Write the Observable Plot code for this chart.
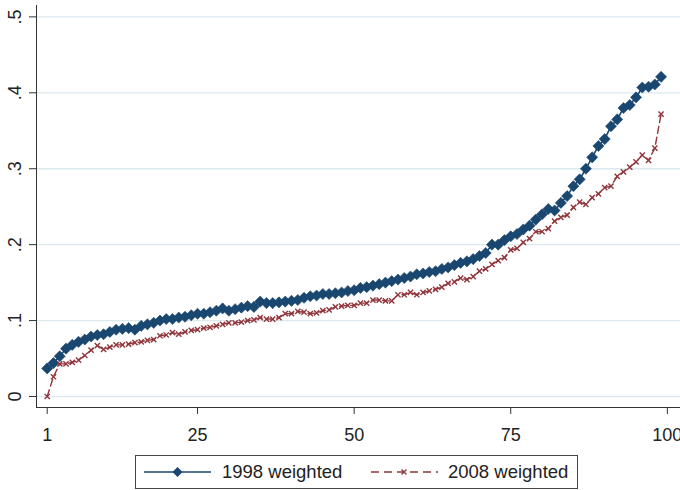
<!DOCTYPE html>
<html>
<head>
<meta charset="utf-8">
<script src="https://cdn.jsdelivr.net/npm/d3@7"></script>
<script src="https://cdn.jsdelivr.net/npm/@observablehq/plot@0.6"></script>
<style>
  html, body { margin: 0; padding: 0; background: #fff; }
  body { font-family: "Liberation Sans", Arial, sans-serif; width: 680px; height: 490px; overflow: hidden; }
  #legend { position: relative; margin: 3px 0 0 135px; width: 441px; height: 32px; border: 1px solid #444; font-size: 18.5px; color: #222; }
  #legend .item { position: absolute; top: 0; height: 32px; line-height: 32px; white-space: nowrap; }
  #legend svg { position: absolute; top: 0; }
</style>
</head>
<body>
<div id="chart"></div>
<div id="legend">
  <svg width="80" height="32" style="left:7px">
    <line x1="1" y1="16" x2="68" y2="16" stroke="#1a476f" stroke-width="1.6"/>
    <path d="M34.5 11 L39.5 16 L34.5 21 L29.5 16 Z" fill="#1a476f"/>
  </svg>
  <span class="item" style="left:86px">1998 weighted</span>
  <svg width="80" height="32" style="left:234px">
    <line x1="1" y1="16" x2="68" y2="16" stroke="#90353b" stroke-width="1.4" stroke-dasharray="8,5"/>
    <path d="M31.5 13.5 L36.5 18.5 M36.5 13.5 L31.5 18.5" stroke="#90353b" stroke-width="1.4"/>
  </svg>
  <span class="item" style="left:312px">2008 weighted</span>
</div>
<script>
// percentile index
const percentile = d3.range(1, 100);

const weighted1998 = [
  0.037, 0.044, 0.053, 0.063, 0.068, 0.072, 0.075, 0.079, 0.081, 0.082,
  0.085, 0.088, 0.089, 0.090, 0.088, 0.093, 0.095, 0.097, 0.100, 0.102,
  0.102, 0.104, 0.105, 0.107, 0.109, 0.109, 0.111, 0.113, 0.116, 0.113,
  0.115, 0.117, 0.119, 0.118, 0.125, 0.123, 0.123, 0.124, 0.125, 0.126,
  0.127, 0.130, 0.132, 0.133, 0.135, 0.135, 0.136, 0.137, 0.139, 0.140,
  0.143, 0.144, 0.146, 0.148, 0.150, 0.152, 0.154, 0.156, 0.158, 0.161,
  0.162, 0.164, 0.165, 0.168, 0.170, 0.173, 0.176, 0.178, 0.181, 0.185,
  0.189, 0.200, 0.200, 0.206, 0.211, 0.214, 0.220, 0.225, 0.233, 0.240,
  0.247, 0.245, 0.255, 0.264, 0.277, 0.286, 0.300, 0.315, 0.330, 0.339,
  0.356, 0.365, 0.380, 0.384, 0.394, 0.407, 0.408, 0.411, 0.421
];

const weighted2008 = [
  0.000, 0.026, 0.043, 0.043, 0.045, 0.048, 0.054, 0.061, 0.067, 0.062,
  0.065, 0.068, 0.068, 0.069, 0.071, 0.072, 0.074, 0.075, 0.080, 0.081,
  0.084, 0.082, 0.085, 0.087, 0.088, 0.090, 0.091, 0.093, 0.095, 0.097,
  0.097, 0.098, 0.100, 0.101, 0.104, 0.102, 0.102, 0.104, 0.109, 0.109,
  0.112, 0.111, 0.109, 0.110, 0.113, 0.114, 0.118, 0.119, 0.120, 0.120,
  0.123, 0.123, 0.127, 0.127, 0.126, 0.126, 0.134, 0.134, 0.137, 0.134,
  0.137, 0.139, 0.141, 0.144, 0.149, 0.151, 0.156, 0.154, 0.158, 0.165,
  0.168, 0.174, 0.179, 0.183, 0.193, 0.195, 0.203, 0.208, 0.217, 0.217,
  0.221, 0.231, 0.236, 0.239, 0.249, 0.256, 0.253, 0.262, 0.267, 0.275,
  0.277, 0.290, 0.296, 0.302, 0.309, 0.318, 0.311, 0.327, 0.372
];

const xTicks = [1, 25, 50, 75, 100];
const yTicks = [0, 0.1, 0.2, 0.3, 0.4, 0.5];
const yTickLabels = ["0", ".1", ".2", ".3", ".4", ".5"];

const blue = "#1a476f";
const red = "#90353b";

const d1998 = percentile.map((p, i) => ({p, v: weighted1998[i]}));
const d2008 = percentile.map((p, i) => ({p, v: weighted2008[i]}));

const xDom = [-0.71, 102.1];
const yDom = [-0.0145, 0.515];

const chart = Plot.plot({
  width: 680,
  height: 452,
  marginLeft: 36,
  marginRight: 0,
  marginTop: 5,
  marginBottom: 45,
  x: {domain: xDom},
  y: {domain: yDom},
  style: {fontFamily: "'Liberation Sans', Arial, sans-serif", fontSize: "18px", color: "#222", background: "#fff"},
  marks: [
    Plot.gridY(yTicks, {stroke: "#dce9ee", strokeOpacity: 1, strokeWidth: 1.3}),
    Plot.ruleX([xDom[0]], {stroke: "#333", strokeWidth: 1}),
    Plot.ruleY([yDom[0]], {stroke: "#333", strokeWidth: 1}),
    Plot.axisX(xTicks, {tickSize: 7, tickPadding: 14, stroke: "#333", fill: "#222", fontSize: 18, label: null}),
    Plot.axisY(yTicks, {tickSize: 7, stroke: "#333", tickFormat: () => "", label: null}),
    Plot.text(yTicks, {
      y: d => d,
      text: (d, i) => yTickLabels[i],
      frameAnchor: "left",
      dx: -21,
      rotate: -90,
      textAnchor: "middle",
      lineAnchor: "middle",
      fontSize: 18,
      fill: "#222"
    }),
    Plot.line(d1998, {x: "p", y: "v", stroke: blue, strokeWidth: 1.6}),
    Plot.dot(d1998, {x: "p", y: "v", symbol: "diamond2", r: 5, fill: blue, stroke: blue, strokeWidth: 0.6}),
    Plot.line(d2008, {x: "p", y: "v", stroke: red, strokeWidth: 1.4, strokeDasharray: "7,4"}),
    Plot.dot(d2008, {x: "p", y: "v", symbol: "times", r: 2.5, stroke: red, strokeWidth: 1.4})
  ]
});
document.getElementById("chart").appendChild(chart);
</script>
</body>
</html>
